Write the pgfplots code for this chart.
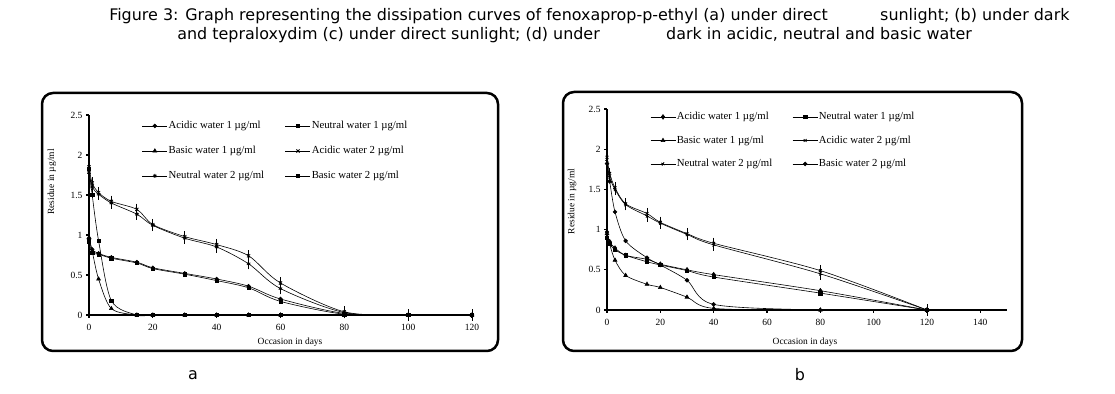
\documentclass[border=0pt]{standalone}
\usepackage{pgfplots}
\pgfplotsset{compat=1.18}
\usepackage{fontspec}
\setmainfont{Liberation Serif}
\newfontfamily\titlefont{DejaVu Sans}

\pgfplotstableread{
x   a1    n1    b1    a2    n2    b2
0   0.95  0.92  0.97  1.85  1.78  1.83
1   0.82  0.78  0.80  1.65  1.60  1.50
3   0.77  0.76  0.45  1.53  1.51  0.93
7   0.72  0.71  0.08  1.42  1.40  0.18
15  0.66  0.65  0     1.32  1.26  0
20  0.59  0.58  0     1.13  1.12  0
30  0.52  0.51  0     0.98  0.96  0
40  0.45  0.43  0     0.88  0.85  0
50  0.36  0.34  0     0.74  0.64  0
60  0.20  0.17  0     0.40  0.33  0
80  0.02  0.01  0     0.04  0.03  0
100 0     0     0     0     0     0
120 0     0     0     0     0     0
}\dataA

\pgfplotstableread{
x   a1    n1    b1    a2    n2    b2
0   0.97  0.90  0.95  1.90  1.85  1.82
1   0.85  0.82  0.82  1.70  1.65  1.60
3   0.77  0.75  0.62  1.52  1.50  1.22
7   0.68  0.68  0.43  1.32  1.31  0.86
15  0.63  0.60  0.32  1.20  1.17  0.65
20  0.57  0.56  0.28  1.09  1.08  0.56
30  0.50  0.49  0.16  0.95  0.94  0.37
40  0.44  0.41  0.02  0.83  0.81  0.07
80  0.24  0.21  0     0.49  0.45  0
120 0     0     0     0     0     0
}\dataB

\pgfplotsset{
  panel/.style={
    scale only axis,
    anchor=south west,
    axis lines*=left,
    axis line style={line width=2bp,-},
    xmin=0, ymin=0, ymax=2.5,
    ytick={0,0.5,1,1.5,2,2.5},
    yticklabels={0,0.5,1,1.5,2,2.5},
    tick align=outside,
    major tick length=3bp,
    tick style={black, line width=1.2bp},
    tick label style={font=\fontsize{9.5}{10}\selectfont},
    xticklabel style={yshift=-3bp},
    /pgf/number format/assume math mode=true,
    label style={font=\fontsize{9.5}{10}\selectfont},
    clip=false,
    legend columns=2,
    legend cell align=left,
    legend style={draw=none, fill=none, inner sep=0pt, anchor=north west,
      font=\fontsize{10.8}{12}\selectfont,
      nodes={inner sep=1bp, text height=7.5bp, text depth=2bp},
      row sep=13.5bp,
      /tikz/every even column/.append style={column sep=20bp}},
    legend image code/.code={\draw[mark repeat=2,mark phase=2] plot coordinates {(0bp,0bp) (12.5bp,0bp) (25bp,0bp)};},
    every axis plot/.append style={black, line width=0.6bp, smooth, tension=0.5},
  },
  eb/.style={error bars/.cd, y dir=both, y fixed=0.04, error mark=-,
    error bar style={line width=0.9bp}, error mark options={line width=0.9bp, mark size=2.5bp}},
}

\newcommand\tf{\titlefont\fontsize{16}{18}\selectfont}

\begin{document}
\begin{tikzpicture}
\useasboundingbox (0,0) rectangle (1115bp,394bp);

% title
\node[font=\tf, anchor=base east, inner sep=0] at (828bp,373bp) {Figure 3: Graph representing the dissipation curves of fenoxaprop-p-ethyl (a) under direct};
\node[font=\tf, anchor=base west, inner sep=0] at (880bp,373bp) {sunlight; (b) under dark};
\node[font=\tf, anchor=base east, inner sep=0] at (600bp,354bp) {and tepraloxydim (c) under direct sunlight; (d) under};
\node[font=\tf, anchor=base west, inner sep=0] at (666bp,354bp) {dark in acidic, neutral and basic water};

% frames
\draw[line width=2.5bp, rounded corners=11bp] (42bp,43bp) rectangle (498bp,301bp);
\draw[line width=2.5bp, rounded corners=11bp] (563bp,43bp) rectangle (1022bp,302bp);

\node[font=\tf] at (193bp,19bp) {a};
\node[font=\tf] at (800bp,19bp) {b};

% panel a
\begin{axis}[panel, at={(89bp,79bp)}, width=383bp, height=200bp,
  xmax=120, xtick={0,20,...,120},
  xlabel={Occasion in days}, ylabel={Residue in µg/ml},
  xlabel style={at={(axis description cs:0.525,-0.135)}, anchor=center},
  ylabel style={at={(axis description cs:-0.097,0.665)}, anchor=center},
  legend style={at={(axis description cs:0.138,0.975)}},
]
\addplot[mark=*, mark size=1.9bp] table[x=x,y=a1] {\dataA};
\addlegendentry{Acidic water 1 µg/ml}
\addplot[mark=square*, mark size=1.7bp] table[x=x,y=n1] {\dataA};
\addlegendentry{Neutral water 1 µg/ml}
\addplot[mark=triangle*, mark size=2.2bp] table[x=x,y=b1] {\dataA};
\addlegendentry{Basic water 1 µg/ml}
\addplot[mark=x, mark size=2.2bp, mark options={line width=0.8bp}, eb] table[x=x,y=a2] {\dataA};
\addlegendentry{Acidic water 2 µg/ml}
\addplot[mark=asterisk, mark size=2bp, mark options={line width=0.8bp}, eb] table[x=x,y=n2] {\dataA};
\addlegendentry{Neutral water 2 µg/ml}
\addplot[mark=square*, mark size=1.7bp] table[x=x,y=b2] {\dataA};
\addlegendentry{Basic water 2 µg/ml}
\end{axis}

% panel b
\begin{axis}[panel, at={(607bp,84bp)}, width=400bp, height=201bp,
  xmax=150, xtick={0,20,...,140},
  xlabel={Occasion in days}, ylabel={Residue in µg/ml},
  xlabel style={at={(axis description cs:0.495,-0.16)}, anchor=center},
  ylabel style={at={(axis description cs:-0.0875,0.54)}, anchor=center},
  legend style={at={(axis description cs:0.1075,0.99)}, row sep=12bp,
    /tikz/every even column/.append style={column sep=19bp}},
]
\addplot[mark=diamond*, mark size=2.3bp] table[x=x,y=a1] {\dataB};
\addlegendentry{Acidic water 1 µg/ml}
\addplot[mark=square*, mark size=1.7bp] table[x=x,y=n1] {\dataB};
\addlegendentry{Neutral water 1 µg/ml}
\addplot[mark=triangle*, mark size=2.2bp] table[x=x,y=b1] {\dataB};
\addlegendentry{Basic water 1 µg/ml}
\addplot[mark=x, mark size=2bp, mark options={line width=0.8bp}, eb] table[x=x,y=a2] {\dataB};
\addlegendentry{Acidic water 2 µg/ml}
\addplot[mark=x, mark size=2bp, mark options={line width=0.8bp, rotate=15}, eb] table[x=x,y=n2] {\dataB};
\addlegendentry{Neutral water 2 µg/ml}
\addplot[mark=*, mark size=1.9bp] table[x=x,y=b2] {\dataB};
\addlegendentry{Basic water 2 µg/ml}
\end{axis}
\end{tikzpicture}
\end{document}
